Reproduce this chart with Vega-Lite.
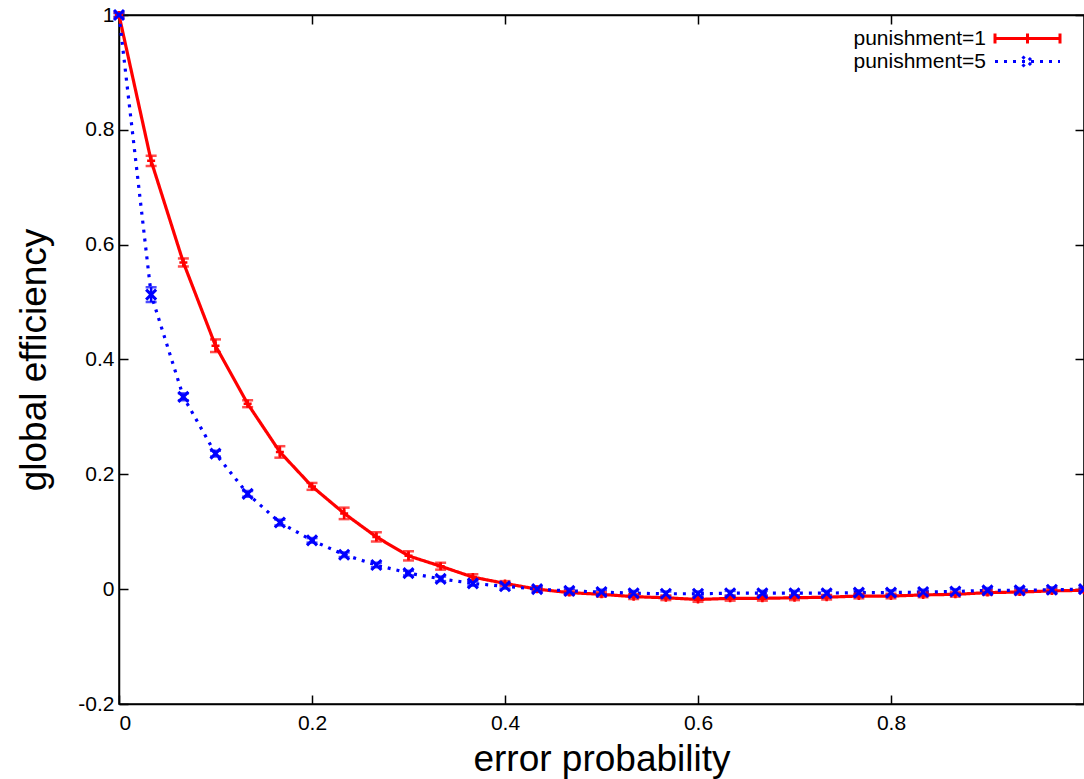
{
  "$schema": "https://vega.github.io/schema/vega-lite/v6.json",
  "width": 965,
  "height": 689,
  "autosize": "none",
  "padding": {"left": 119, "top": 15, "right": 0, "bottom": 75},
  "background": "white",
  "config": {
    "view": {"stroke": "black", "strokeWidth": 1.5},
    "font": "Liberation Sans",
    "axis": {
      "grid": false,
      "domainColor": "black",
      "domainWidth": 1.5,
      "tickColor": "black",
      "tickWidth": 1.5,
      "labelFont": "Liberation Sans",
      "labelFontSize": 21,
      "labelColor": "black",
      "titleFont": "Liberation Sans",
      "titleFontSize": 37,
      "titleFontWeight": "normal",
      "titleColor": "black"
    }
  },
  "data": {
    "values": [
      {"x": 0, "y": 1.0, "err": 0.004, "s": "punishment=1"},
      {"x": 0.0333, "y": 0.746, "err": 0.009, "s": "punishment=1"},
      {"x": 0.0667, "y": 0.569, "err": 0.007, "s": "punishment=1"},
      {"x": 0.1, "y": 0.424, "err": 0.011, "s": "punishment=1"},
      {"x": 0.1333, "y": 0.323, "err": 0.006, "s": "punishment=1"},
      {"x": 0.1667, "y": 0.239, "err": 0.010, "s": "punishment=1"},
      {"x": 0.2, "y": 0.179, "err": 0.006, "s": "punishment=1"},
      {"x": 0.2333, "y": 0.132, "err": 0.010, "s": "punishment=1"},
      {"x": 0.2667, "y": 0.091, "err": 0.008, "s": "punishment=1"},
      {"x": 0.3, "y": 0.058, "err": 0.008, "s": "punishment=1"},
      {"x": 0.3333, "y": 0.040, "err": 0.006, "s": "punishment=1"},
      {"x": 0.3667, "y": 0.021, "err": 0.005, "s": "punishment=1"},
      {"x": 0.4, "y": 0.010, "err": 0.004, "s": "punishment=1"},
      {"x": 0.4333, "y": 0.000, "err": 0.004, "s": "punishment=1"},
      {"x": 0.4667, "y": -0.006, "err": 0.004, "s": "punishment=1"},
      {"x": 0.5, "y": -0.009, "err": 0.004, "s": "punishment=1"},
      {"x": 0.5333, "y": -0.013, "err": 0.004, "s": "punishment=1"},
      {"x": 0.5667, "y": -0.015, "err": 0.004, "s": "punishment=1"},
      {"x": 0.6, "y": -0.018, "err": 0.004, "s": "punishment=1"},
      {"x": 0.6333, "y": -0.016, "err": 0.004, "s": "punishment=1"},
      {"x": 0.6667, "y": -0.016, "err": 0.004, "s": "punishment=1"},
      {"x": 0.7, "y": -0.015, "err": 0.004, "s": "punishment=1"},
      {"x": 0.7333, "y": -0.014, "err": 0.004, "s": "punishment=1"},
      {"x": 0.7667, "y": -0.012, "err": 0.004, "s": "punishment=1"},
      {"x": 0.8, "y": -0.012, "err": 0.004, "s": "punishment=1"},
      {"x": 0.8333, "y": -0.010, "err": 0.004, "s": "punishment=1"},
      {"x": 0.8667, "y": -0.009, "err": 0.004, "s": "punishment=1"},
      {"x": 0.9, "y": -0.006, "err": 0.004, "s": "punishment=1"},
      {"x": 0.9333, "y": -0.005, "err": 0.004, "s": "punishment=1"},
      {"x": 0.9667, "y": -0.003, "err": 0.004, "s": "punishment=1"},
      {"x": 1.0, "y": -0.002, "err": 0.003, "s": "punishment=1"},
      {"x": 0, "y": 1.0, "err": 0.003, "s": "punishment=5"},
      {"x": 0.0333, "y": 0.513, "err": 0.013, "s": "punishment=5"},
      {"x": 0.0667, "y": 0.335, "err": 0.006, "s": "punishment=5"},
      {"x": 0.1, "y": 0.236, "err": 0.005, "s": "punishment=5"},
      {"x": 0.1333, "y": 0.166, "err": 0.005, "s": "punishment=5"},
      {"x": 0.1667, "y": 0.116, "err": 0.005, "s": "punishment=5"},
      {"x": 0.2, "y": 0.085, "err": 0.004, "s": "punishment=5"},
      {"x": 0.2333, "y": 0.060, "err": 0.004, "s": "punishment=5"},
      {"x": 0.2667, "y": 0.042, "err": 0.004, "s": "punishment=5"},
      {"x": 0.3, "y": 0.028, "err": 0.004, "s": "punishment=5"},
      {"x": 0.3333, "y": 0.018, "err": 0.004, "s": "punishment=5"},
      {"x": 0.3667, "y": 0.010, "err": 0.004, "s": "punishment=5"},
      {"x": 0.4, "y": 0.005, "err": 0.004, "s": "punishment=5"},
      {"x": 0.4333, "y": 0.000, "err": 0.004, "s": "punishment=5"},
      {"x": 0.4667, "y": -0.003, "err": 0.004, "s": "punishment=5"},
      {"x": 0.5, "y": -0.005, "err": 0.004, "s": "punishment=5"},
      {"x": 0.5333, "y": -0.007, "err": 0.004, "s": "punishment=5"},
      {"x": 0.5667, "y": -0.008, "err": 0.004, "s": "punishment=5"},
      {"x": 0.6, "y": -0.008, "err": 0.004, "s": "punishment=5"},
      {"x": 0.6333, "y": -0.007, "err": 0.004, "s": "punishment=5"},
      {"x": 0.6667, "y": -0.007, "err": 0.004, "s": "punishment=5"},
      {"x": 0.7, "y": -0.007, "err": 0.004, "s": "punishment=5"},
      {"x": 0.7333, "y": -0.007, "err": 0.004, "s": "punishment=5"},
      {"x": 0.7667, "y": -0.006, "err": 0.004, "s": "punishment=5"},
      {"x": 0.8, "y": -0.006, "err": 0.004, "s": "punishment=5"},
      {"x": 0.8333, "y": -0.005, "err": 0.004, "s": "punishment=5"},
      {"x": 0.8667, "y": -0.004, "err": 0.004, "s": "punishment=5"},
      {"x": 0.9, "y": -0.002, "err": 0.004, "s": "punishment=5"},
      {"x": 0.9333, "y": -0.002, "err": 0.004, "s": "punishment=5"},
      {"x": 0.9667, "y": -0.001, "err": 0.004, "s": "punishment=5"},
      {"x": 1.0, "y": 0.000, "err": 0.003, "s": "punishment=5"}
    ]
  },
  "resolve": {"axis": {"x": "independent", "y": "independent"}},
  "layer": [
    {
      "mark": {"type": "line", "strokeWidth": 3.2, "clip": false},
      "encoding": {
        "x": {"field": "x", "type": "quantitative", "scale": {"domain": [0, 1], "nice": false, "zero": false},
              "axis": {"orient": "bottom", "values": [0, 0.2, 0.4, 0.6, 0.8], "format": "~g", "tickSize": -9, "labelPadding": 17, "title": "error probability", "titlePadding": 8}},
        "y": {"field": "y", "type": "quantitative", "scale": {"domain": [-0.2, 1], "nice": false, "zero": false},
              "axis": {"orient": "left", "values": [-0.2, 0, 0.2, 0.4, 0.6, 0.8, 1], "labelExpr": "datum.value < 0 ? '-' + format(-datum.value, '~g') : format(datum.value, '~g')", "tickSize": -9, "labelPadding": 14, "title": "global efficiency", "titlePadding": 24}},
        "color": {"field": "s", "type": "nominal",
                  "scale": {"domain": ["punishment=1", "punishment=5"], "range": ["#ff0000", "#0000ff"]},
                  "legend": {"title": null, "orient": "none", "legendX": 897, "legendY": 12,
                             "labelFont": "Liberation Sans", "labelFontSize": 21, "labelColor": "black",
                             "labelAlign": "right", "labelOffset": -53, "rowPadding": -7,
                             "symbolSize": 400, "symbolStrokeWidth": 3,
                             "encode": {"symbols": {"update": {"shape": {"signal": "datum.value == 'punishment=1' ? 'M-3.25,0L3.25,0M-3.25,-0.5L-3.25,0.5M0,-0.5L0,0.5M3.25,-0.5L3.25,0.5' : 'M-3.25,0L3.25,0M-0.5,-0.5L0.5,0.5M-0.5,0.5L0.5,-0.5'"}}}}}},
        "strokeDash": {"field": "s", "type": "nominal",
                       "scale": {"domain": ["punishment=1", "punishment=5"], "range": [[1, 0], [3, 6]]},
                       "legend": null}
      }
    },
    {
      "mark": {"type": "errorbar", "ticks": {"size": 11, "thickness": 2.5}, "thickness": 2.5, "clip": false},
      "encoding": {
        "x": {"field": "x", "type": "quantitative", "axis": null},
        "y": {"field": "y", "type": "quantitative", "axis": null},
        "yError": {"field": "err"},
        "color": {"field": "s", "type": "nominal", "legend": null}
      }
    },
    {
      "transform": [{"filter": "datum.s == 'punishment=1'"}],
      "mark": {"type": "point", "filled": false, "color": "#ff0000", "strokeWidth": 2.5, "size": 100, "opacity": 1, "clip": false, "shape": "M-0.8,0L0.8,0M0,-0.8L0,0.8"},
      "encoding": {
        "x": {"field": "x", "type": "quantitative", "axis": null},
        "y": {"field": "y", "type": "quantitative", "axis": null}
      }
    },
    {
      "transform": [{"filter": "datum.s == 'punishment=5'"}],
      "mark": {"type": "point", "filled": false, "color": "#0000ff", "strokeWidth": 3, "size": 100, "opacity": 1, "clip": false, "shape": "M-1,-1L1,1M-1,1L1,-1"},
      "encoding": {
        "x": {"field": "x", "type": "quantitative", "axis": null},
        "y": {"field": "y", "type": "quantitative", "axis": null}
      }
    },
    {
      "mark": {"type": "point", "opacity": 0},
      "encoding": {
        "x": {"field": "x", "type": "quantitative",
              "axis": {"orient": "top", "values": [0, 0.2, 0.4, 0.6, 0.8], "labels": false, "title": null, "tickSize": -9}},
        "y": {"field": "y", "type": "quantitative",
              "axis": {"orient": "right", "values": [-0.2, 0, 0.2, 0.4, 0.6, 0.8, 1], "labels": false, "title": null, "tickSize": -9}}
      }
    }
  ]
}
